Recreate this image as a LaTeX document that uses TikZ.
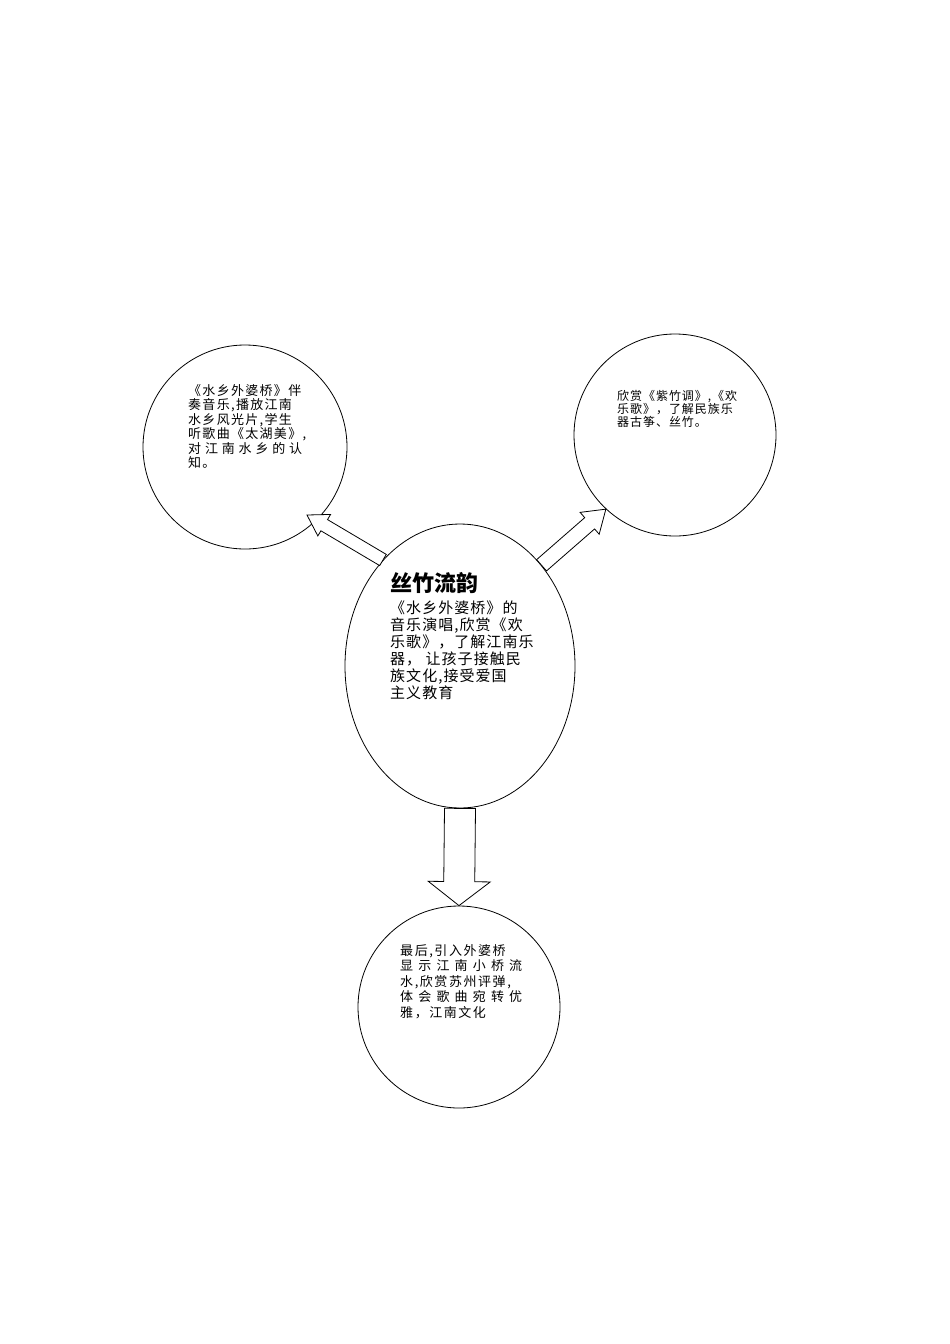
\documentclass[tikz,border=0pt]{standalone}
\usepackage{fontspec}
\setmainfont{Noto Sans CJK SC}
\usetikzlibrary{shapes.geometric,calc}
\newcommand{\spreadline}[2]{\makebox[#1][s]{#2}}
\newcommand{\blockarrow}[5]{%
	\draw[hollow] let \p1 = (#1), \p2 = (#2), \n1 = {atan2(\y2-\y1,\x2-\x1)} in
		($(\p1)+(\n1+90:#3)$) -- ($(\p2)+(\n1+180:#5)+(\n1+90:#3)$)
		-- ($(\p2)+(\n1+180:#5)+(\n1+90:#4)$) -- (\p2)
		-- ($(\p2)+(\n1+180:#5)+(\n1-90:#4)$) -- ($(\p2)+(\n1+180:#5)+(\n1-90:#3)$)
		-- ($(\p1)+(\n1-90:#3)$) -- cycle;}
\begin{document}
\begin{tikzpicture}[
		x = 1pt,
		y = -1pt,
		bubble/.style = {
			circle,
			draw,
			line width = 0.8pt,
			inner sep = 0pt,
			minimum size = 202
		},
		core/.style = {
			ellipse,
			draw,
			line width = 0.8pt,
			minimum width = 230,
			minimum height = 284
		},
		note/.style = {
			anchor = north west,
			align = left,
			inner sep = 0pt
		},
		hollow/.style = {
			draw,
			fill = white,
			line width = 0.8pt,
			line join = miter
		}
	]
	\useasboundingbox (0,0) rectangle (950,1344);
	\node[bubble, minimum size = 204] (water) at (245,447) {};
	\node[bubble] (echo) at (675,435) {};
	\node[bubble] (sea)  at (459,1007) {};
	\node[core] (heart) at (460,666) {};
	\coordinate (waterTip) at (307,515);
	\blockarrow{heart.126}{waterTip}{6.5pt}{12.5pt}{20pt}
	\blockarrow{heart.51}{echo.-133}{7.5pt}{14.5pt}{21.5pt}
	\blockarrow{heart.south}{sea.north}{15.5pt}{31pt}{24pt}
	\node[note, font = \fontsize{22}{24}\selectfont\bfseries] (title) at (390,572) {丝竹流韵};
	\node[note, font = \fontsize{15}{17}\selectfont\addfontfeature{LetterSpace=7}] (heartText) at (390,601) {%
		《水乡外婆桥》的\\音乐演唱,欣赏《欢\\乐歌》，了解江南乐\\器， 让孩子接触民\\族文化,接受爱国\\主义教育};
	\node[note, font = \fontsize{13}{14.5}\selectfont\addfontfeature{LetterSpace=10}] (waterText) at (188,384) {%
		《水乡外婆桥》伴\\奏音乐,播放江南\\水乡风光片,学生\\听歌曲《太湖美》,\\\spreadline{114pt}{对 江 南 水 乡 的 认}\\知。};
	\node[note, font = \fontsize{12}{13}\selectfont\addfontfeature{LetterSpace=8}] (echoText) at (617,390) {%
		欣赏《紫竹调》,《欢\\乐歌》，了解民族乐\\器古筝、丝竹。};
	\node[note, font = \fontsize{13}{15.5}\selectfont\addfontfeature{LetterSpace=12}] (seaText) at (400,944) {%
		最后,引入外婆桥\\\spreadline{122pt}{显 示 江 南 小 桥 流}\\水,欣赏苏州评弹,\\\spreadline{122pt}{体 会 歌 曲 宛 转 优}\\雅，江南文化};
\end{tikzpicture}
\end{document}
